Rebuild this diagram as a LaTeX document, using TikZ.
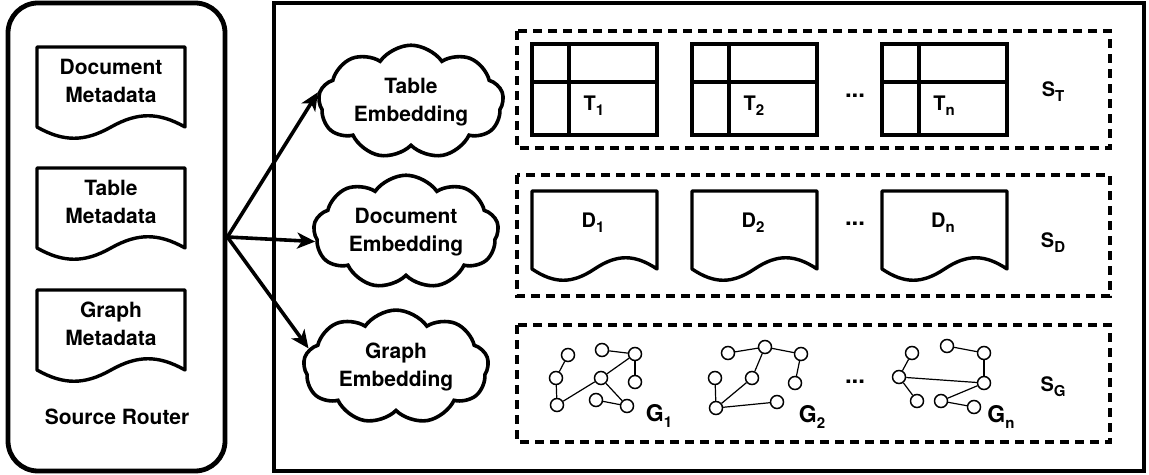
\documentclass[tikz,border=0pt]{standalone}
\usepackage{fontspec}
\setmainfont{TeX Gyre Heros}
\usetikzlibrary{shapes.symbols,arrows.meta}

\newcommand{\lowsub}[1]{\raisebox{-0.45ex}{\fontsize{7.5}{8}\selectfont #1}}

\tikzset{
  outer/.style={draw, line width=2.4pt},
  setbox/.style={draw, line width=1.6pt, dash pattern=on 4.5pt off 3pt},
  cloudnode/.style={draw, cloud, cloud puffs=9, cloud puff arc=110, cloud ignores aspect,
    line width=1.8pt, minimum width=90pt, minimum height=55pt,
    align=center, font=\bfseries\fontsize{10.5}{14}\selectfont},
  metatext/.style={align=center, font=\bfseries\fontsize{10.5}{14}\selectfont},
  sublabel/.style={font=\bfseries\fontsize{10}{11}\selectfont},
  setlabel/.style={font=\bfseries\fontsize{10}{11}\selectfont},
  glabel/.style={font=\bfseries\fontsize{11.5}{12}\selectfont},
  dotsnode/.style={anchor=base, font=\bfseries\fontsize{12}{14}\selectfont},
  tableline/.style={draw, line width=1.7pt},
  docline/.style={draw, line width=1.7pt, line join=round},
  gnode/.style={circle, draw, line width=0.75pt, fill=white,
    inner sep=0pt, minimum size=6.5pt},
  gedge/.style={draw, line width=0.6pt},
  flow/.style={line width=1.8pt, -{Stealth[length=9pt, width=8pt, inset=2.5pt]}},
  pics/docshape/.style n args={3}{code={
    \draw[docline] (0,0) -- (#1,0) -- (#1,#2)
      .. controls (0.82*#1,#2-#3) and (0.68*#1,#2-#3) .. (0.5*#1,#2)
      .. controls (0.32*#1,#2+#3) and (0.18*#1,#2+#3) .. (0,#2) -- cycle;
  }}
}

\begin{document}
\begin{tikzpicture}[x=0.5pt, y=-0.5pt]
  \useasboundingbox (0,0) rectangle (1149,475);

  % Source router
  \node[outer, rounded corners=15pt, minimum width=108.5pt, minimum height=234pt,
    inner sep=0pt] (router) at (116.5,237) {};
  \foreach \y/\txt/\nm in {47/Document/docmeta, 168/Table/tabmeta, 290/Graph/graphmeta} {
    \pic at (37,\y) {docshape={148}{80}{15}};
    \node[metatext] (\nm) at (111,\y+34) {\txt\\Metadata};
  }
  \node[metatext] (routerlabel) at (117,417) {Source Router};

  % Store frame
  \draw[outer] (274,3) rectangle (1144,471);

  % Embeddings
  \node[cloudnode] (tcloud) at (411,102) {Table\\Embedding};
  \node[cloudnode] (dcloud) at (406,232) {Document\\Embedding};
  \node[cloudnode] (gcloud) at (396,367) {Graph\\Embedding};

  \draw[flow] (router.east) -- (tcloud.174);
  \draw[flow] (router.east) -- (dcloud.186);
  \draw[flow] (router.east) -- (gcloud.168);

  % Sets
  \draw[setbox] (517,31) rectangle (1110,148);
  \draw[setbox] (517,175) rectangle (1110,296);
  \draw[setbox] (517,325) rectangle (1110,442);

  % Tables
  \foreach \x/\k in {532/1, 692/2, 882/n} {
    \draw[tableline] (\x,44) rectangle ++(125,91);
    \draw[tableline] (\x+37,44) -- ++(0,91);
    \draw[tableline] (\x,82) -- ++(125,0);
    \node[sublabel] (t\k) at (\x+62,106) {T\lowsub{\k}};
  }
  \node[dotsnode] (tdots) at (855,98) {...};
  \node[setlabel] (stab) at (1053,92) {S\lowsub{T}};

  % Documents
  \foreach \x/\k in {532/1, 692/2, 882/n} {
    \pic at (\x,191) {docshape={125}{78}{15}};
    \node[sublabel] (d\k) at (\x+61,223) {D\lowsub{\k}};
  }
  \node[dotsnode] (ddots) at (855,226) {...};
  \node[setlabel] (sdoc) at (1053,243) {S\lowsub{D}};

  % Graphs
  \foreach \n/\x/\y in {g1a/568/355, g1b/556/378, g1c/557/405, g1d/602/350, g1e/635/354,
      g1f/601/378, g1g/635/382, g1h/596/400, g1i/627/406,
      g2a/728/353, g2b/765/347, g2c/801/354, g2d/715/378, g2e/752/378,
      g2f/795/383, g2g/716/408, g2h/777/402,
      gna/912/353, gnb/947/346, gnc/984/353, gnd/899/377, gne/984/383,
      gnf/917/401, gng/941/401, gnh/974/407}
    \node[gnode] (\n) at (\x,\y) {};
  \foreach \a/\b in {g1a/g1b, g1b/g1c, g1c/g1f, g1f/g1e, g1d/g1e, g1e/g1g, g1f/g1i, g1h/g1i,
      g2a/g2b, g2b/g2c, g2b/g2e, g2c/g2f, g2d/g2g, g2e/g2g, g2g/g2h,
      gna/gnd, gnb/gnc, gnc/gne, gnd/gne, gnd/gnf, gne/gng, gng/gnh}
    \draw[gedge] (\a) -- (\b);
  \node[glabel] (g1) at (659,416) {G\lowsub{1}};
  \node[glabel] (g2) at (812,417) {G\lowsub{2}};
  \node[glabel] (gn) at (1001,417) {G\lowsub{n}};
  \node[dotsnode] (gdots) at (855,383) {...};
  \node[setlabel] (sgraph) at (1053,387) {S\lowsub{G}};
\end{tikzpicture}
\end{document}
